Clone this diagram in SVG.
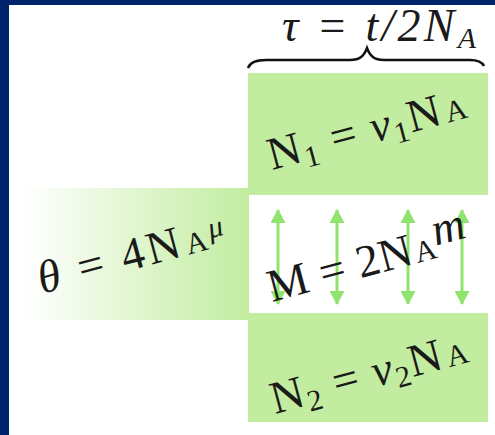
<svg xmlns="http://www.w3.org/2000/svg" width="495" height="435" viewBox="0 0 495 435">
<defs>
<style>
.t{font-family:"Liberation Serif","DejaVu Serif",serif;fill:#1a1a1a;font-size:46px}
.box{fill:#c2eda0}
.arr{stroke:#90e36c;stroke-width:3;fill:none}
.sm{font-size:30px}
.it{font-style:italic}
</style>
<linearGradient id="g" x1="0" y1="0" x2="1" y2="0">
<stop offset="0" stop-color="#c2eda0" stop-opacity="0"/>
<stop offset="0.12" stop-color="#c2eda0" stop-opacity="0.1"/>
<stop offset="0.6" stop-color="#c2eda0" stop-opacity="0.6"/>
<stop offset="1" stop-color="#c2eda0" stop-opacity="1"/>
</linearGradient>
<marker id="ah" viewBox="0 0 14 15" refX="13" refY="7.5" markerWidth="14" markerHeight="15" markerUnits="userSpaceOnUse" orient="auto-start-reverse">
<path d="M0,0 L14,7.5 L0,15 Z" fill="#90e36c"/>
</marker>
</defs>
<rect width="495" height="435" fill="#ffffff"/>
<rect x="0" y="0" width="495" height="5" fill="#00236e"/>
<rect x="0" y="0" width="9" height="435" fill="#00236e"/>

<g id="theta">
<rect x="20" y="188" width="229" height="132" fill="url(#g)"/>
<text class="t" x="42" y="294" transform="rotate(-15 42 294)" textLength="192" lengthAdjust="spacing"><tspan class="it">θ</tspan> = 4N<tspan class="sm" dx="2">A</tspan><tspan class="it sm" dy="-10">μ</tspan></text>
</g>

<g id="n1">
<rect class="box" x="248" y="73" width="240" height="122"/>
<text class="t" x="272" y="170" transform="rotate(-15 272 170)" textLength="204" lengthAdjust="spacing">N<tspan class="sm" dy="7">1</tspan><tspan dy="-7"> = </tspan><tspan class="it">ν</tspan><tspan class="sm" dy="7">1</tspan><tspan dy="-7">N</tspan><tspan class="sm" dx="3">A</tspan></text>
</g>

<g id="n2">
<rect class="box" x="248" y="313" width="240" height="109"/>
<text class="t" x="275" y="414" transform="rotate(-15 275 414)" textLength="202" lengthAdjust="spacing">N<tspan class="sm" dy="7">2</tspan><tspan dy="-7"> = </tspan><tspan class="it">ν</tspan><tspan class="sm" dy="7">2</tspan><tspan dy="-7">N</tspan><tspan class="sm" dx="3">A</tspan></text>
</g>

<g id="connectors">
<line class="arr" x1="278" y1="210" x2="278" y2="304" marker-start="url(#ah)" marker-end="url(#ah)"/>
<line class="arr" x1="337" y1="210" x2="337" y2="304" marker-start="url(#ah)" marker-end="url(#ah)"/>
<line class="arr" x1="408" y1="210" x2="408" y2="304" marker-start="url(#ah)" marker-end="url(#ah)"/>
<line class="arr" x1="462" y1="210" x2="462" y2="304" marker-start="url(#ah)" marker-end="url(#ah)"/>
</g>

<g id="m">
<text class="t" x="272" y="302" transform="rotate(-15 272 302)" textLength="206" lengthAdjust="spacing">M = 2N<tspan class="sm" dx="2">A</tspan><tspan class="it" dy="-12">m</tspan></text>
</g>

<g id="tau">
<path d="M248,68 C250,62 256,60 266,60 L350,60 C360,60 364,56 367,48 C370,56 374,60 384,60 L470,60 C478,60 482,62 484,66" fill="none" stroke="#111" stroke-width="2.5"/>
<text class="t it" x="282" y="41" font-size="40" textLength="194" lengthAdjust="spacing">τ = t/2N<tspan class="sm" dy="7">A</tspan></text>
</g>
</svg>
